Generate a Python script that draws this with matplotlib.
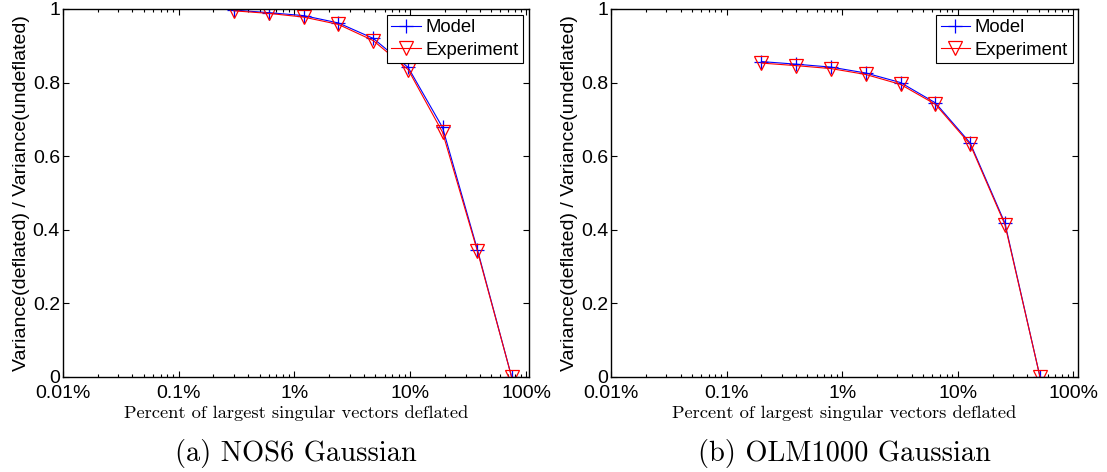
import matplotlib.pyplot as plt
from matplotlib.ticker import FixedLocator, FixedFormatter, LogLocator, NullFormatter

# Percent of largest singular vectors deflated
nos6_pct = [0.3, 0.6, 1.2, 2.4, 4.8, 9.6, 19, 38, 75]
nos6_model = [0.997, 0.99, 0.982, 0.962, 0.92, 0.841, 0.678, 0.346, 0.0]
nos6_exp = [0.995, 0.988, 0.978, 0.958, 0.914, 0.835, 0.665, 0.342, 0.0]

olm_pct = [0.2, 0.4, 0.8, 1.6, 3.2, 6.4, 12.8, 25.6, 51.5]
olm_model = [0.857, 0.850, 0.842, 0.826, 0.800, 0.745, 0.636, 0.418, 0.0]
olm_exp = [0.853, 0.846, 0.838, 0.822, 0.795, 0.741, 0.632, 0.414, 0.0]

xtick_vals = [0.01, 0.1, 1, 10, 100]
xtick_labels = ['0.01%', '0.1%', '1%', '10%', '100%']
ytick_vals = [0, 0.2, 0.4, 0.6, 0.8, 1]
ytick_labels = ['0', '0.2', '0.4', '0.6', '0.8', '1']

captions = ['(a) NOS6 Gaussian', '(b) OLM1000 Gaussian']

plt.rcParams['font.family'] = ['Liberation Sans', 'DejaVu Sans']

fig = plt.figure(figsize=(11.07, 4.72), dpi=100)
ax1 = fig.add_axes([0.0566, 0.2013, 0.4213, 0.7797])
ax2 = fig.add_axes([0.5520, 0.2013, 0.4219, 0.7797])

panels = [
    (ax1, nos6_pct, nos6_model, nos6_exp, 106),
    (ax2, olm_pct, olm_model, olm_exp, 110),
]

for i, (ax, pct, model, exp, xmax) in enumerate(panels):
    ax.plot(pct, model, color='blue', lw=0.8, marker='+', ms=10,
            mew=0.9, label='Model')
    ax.plot(pct, exp, color='red', lw=0.8, marker='v', ms=10,
            mew=0.9, mfc='none', label='Experiment')
    ax.set_xscale('log')
    ax.set_xlim(0.01, xmax)
    ax.set_ylim(0, 1)
    ax.xaxis.set_major_locator(FixedLocator(xtick_vals))
    ax.xaxis.set_major_formatter(FixedFormatter(xtick_labels))
    ax.xaxis.set_minor_locator(LogLocator(base=10, subs=range(2, 10)))
    ax.xaxis.set_minor_formatter(NullFormatter())
    ax.yaxis.set_major_locator(FixedLocator(ytick_vals))
    ax.yaxis.set_major_formatter(FixedFormatter(ytick_labels))
    ax.tick_params(which='both', direction='in', top=True, right=True,
                   labelsize=14, width=0.8)
    ax.tick_params(axis='x', pad=6)
    ax.tick_params(axis='y', pad=2)
    ax.tick_params(which='major', length=4)
    ax.tick_params(which='minor', length=2.5)
    for s in ax.spines.values():
        s.set_linewidth(1.0)
    ax.set_ylabel('Variance(deflated) / Variance(undeflated)', fontsize=14,
                  labelpad=2)
    ax.set_xlabel('Percent of largest singular vectors deflated',
                  family='cmr10', fontsize=13.3, labelpad=2)
    leg = ax.legend(loc='upper right', fontsize=13.3, fancybox=False,
                    framealpha=1, edgecolor='black', borderaxespad=0.3,
                    handlelength=1.6, handletextpad=0.25, borderpad=0.25,
                    labelspacing=0.3)
    leg.get_frame().set_linewidth(0.8)
    pos = ax.get_position()
    fig.text(pos.x0 + pos.width / 2, 0.040, captions[i], family='cmr10',
             fontsize=20.5, ha='center', va='center')

fig.savefig('out.png', dpi=100)
